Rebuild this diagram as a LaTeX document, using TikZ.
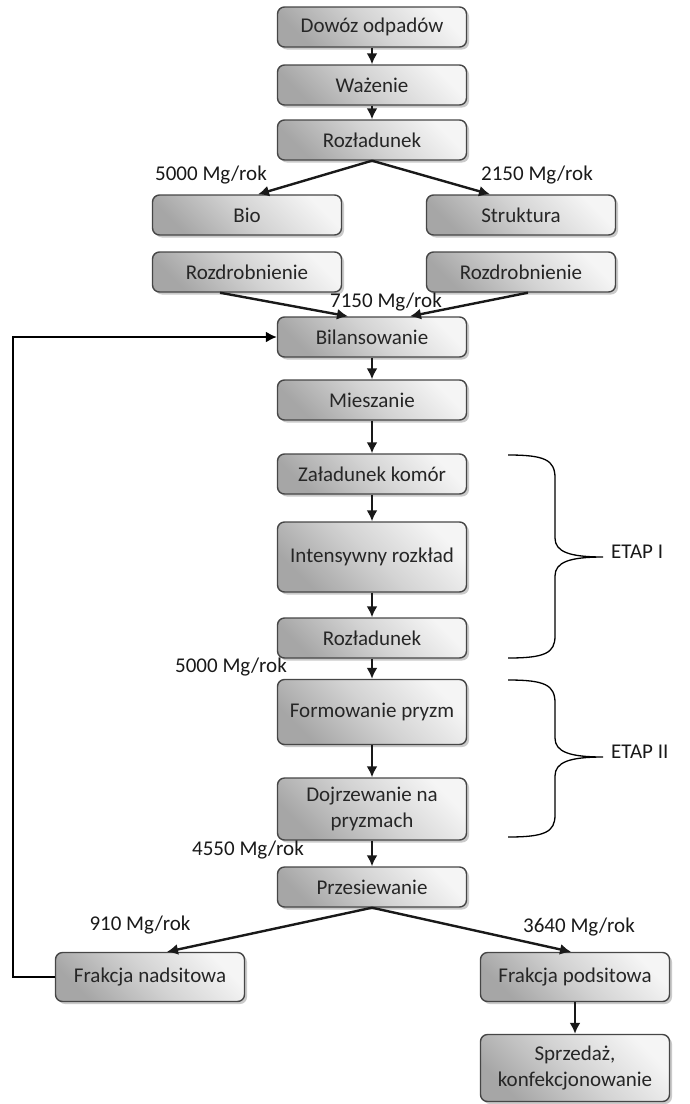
\documentclass[tikz,border=0pt]{standalone}
\usepackage{fontspec}
\setmainfont{Carlito}
\usetikzlibrary{shadows, positioning, arrows.meta}

\begin{document}
\begin{tikzpicture}[x = 1pt, y = -1pt, > = {Latex[length = 11pt, width = 11pt]},
	stage/.style = {draw = gray!55!black, line width = 1.4pt, rounded corners = 7pt,
		minimum width = 189pt, minimum height = 40pt, inner sep = 2pt, align = center,
		bottom color = gray!70, top color = gray!8, middle color = gray!35, shading angle = -45,
		drop shadow = {shadow xshift = 2.5pt, shadow yshift = -2.5pt, fill = gray!70, opacity = 0.6},
		font = \fontsize{21}{26}\selectfont, text = black!85},
	flow/.style = {->, line width = 2.4pt, black!90},
	rate/.style = {font = \fontsize{21}{26}\selectfont, text = black!90, inner sep = 0pt}]

	\useasboundingbox (0, 0) rectangle (689, 1104);

	% Delivery and sorting

	\node [stage] (dowoz) at (372, 27) {Dowóz odpadów};
	\node [stage] (wazenie) at (372, 85) {Ważenie};
	\node [stage] (rozl) at (372, 140) {Rozładunek};
	\node [stage] (bio) at (247, 215) {Bio};
	\node [stage] (strukt) at (521, 215) {Struktura};
	\node [stage] (rozdrB) at (247, 272) {Rozdrobnienie};
	\node [stage] (rozdrS) at (521, 272) {Rozdrobnienie};

	\draw [flow] (dowoz) -- (wazenie);
	\draw [flow] (wazenie) -- (rozl);
	\draw [flow] (rozl.south) -- ([xshift = 11pt] bio.north);
	\draw [flow] (rozl.south) -- ([xshift = -31pt] strukt.north);

	\node [rate] (rateBio) at (211, 175) {5000 Mg/rok};
	\node [rate] (rateStrukt) at (537, 175) {2150 Mg/rok};

	% Main line

	\node [stage] (bilans) at (372, 337) {Bilansowanie};
	\node [stage] (miesz) at (372, 400) {Mieszanie};
	\node [stage] (zalad) at (372, 474) {Załadunek komór};
	\node [stage, minimum height = 70pt] (intens) at (372, 557) {Intensywny rozkład};
	\node [stage] (rozl2) at (372, 638) {Rozładunek};
	\node [stage, minimum height = 65pt] (formow) at (372, 712) {Formowanie pryzm};
	\node [stage, minimum height = 62pt] (dojrz) at (372, 809) {Dojrzewanie na\\pryzmach};
	\node [stage] (przes) at (372, 887) {Przesiewanie};

	\draw [flow] ([xshift = -27pt] rozdrB.south) -- ([xshift = -24pt] bilans.north);
	\draw [flow] ([xshift = 7pt] rozdrS.south) -- ([xshift = 38pt] bilans.north);
	\draw [flow] (bilans) -- (miesz);
	\draw [flow] (miesz) -- (zalad);
	\draw [flow] (zalad) -- (intens);
	\draw [flow] (intens) -- (rozl2);
	\draw [flow] (rozl2) -- (formow);
	\draw [flow] (formow) -- (dojrz);
	\draw [flow] (dojrz) -- (przes);

	\node [rate] (rateMix) at (386, 302) {7150 Mg/rok};
	\node [rate] (rateRozl) at (231, 667) {5000 Mg/rok};
	\node [rate] (rateDojrz) at (248, 850) {4550 Mg/rok};

	% Stage braces

	\draw [line width = 1.3pt] (508, 455) .. controls (545, 455) and (555, 460) .. (555, 478)
		-- (555, 538) .. controls (555, 552) and (570, 557) .. (603, 557)
		.. controls (570, 557) and (555, 562) .. (555, 576)
		-- (555, 636) .. controls (555, 653) and (545, 658) .. (508, 658);
	\node [rate, anchor = west] (etap1) at (611, 552) {ETAP I};

	\draw [line width = 1.3pt] (508, 680) .. controls (545, 680) and (555, 685) .. (555, 703)
		-- (555, 738) .. controls (555, 752) and (570, 757) .. (603, 757)
		.. controls (570, 757) and (555, 762) .. (555, 776)
		-- (555, 815) .. controls (555, 832) and (545, 837) .. (508, 837);
	\node [rate, anchor = west] (etap2) at (611, 752) {ETAP II};

	% Screening

	\node [stage, minimum height = 49pt] (nadsit) at (150, 977) {Frakcja nadsitowa};
	\node [stage, minimum height = 49pt] (podsit) at (575, 977) {Frakcja podsitowa};
	\node [stage, minimum height = 67pt] (sprzed) at (575, 1068) {Sprzedaż,\\konfekcjonowanie};

	\draw [flow] (przes.south) -- ([xshift = 17pt] nadsit.north);
	\draw [flow] (przes.south) -- ([xshift = -4pt] podsit.north);
	\draw [flow] (podsit) -- (sprzed);
	\draw [->, line width = 1.8pt] (nadsit.west) -- ++(-42, 0) |- (bilans.west);

	\node [rate] (rateNad) at (140, 925) {910 Mg/rok};
	\node [rate] (ratePod) at (579, 927) {3640 Mg/rok};

\end{tikzpicture}
\end{document}
